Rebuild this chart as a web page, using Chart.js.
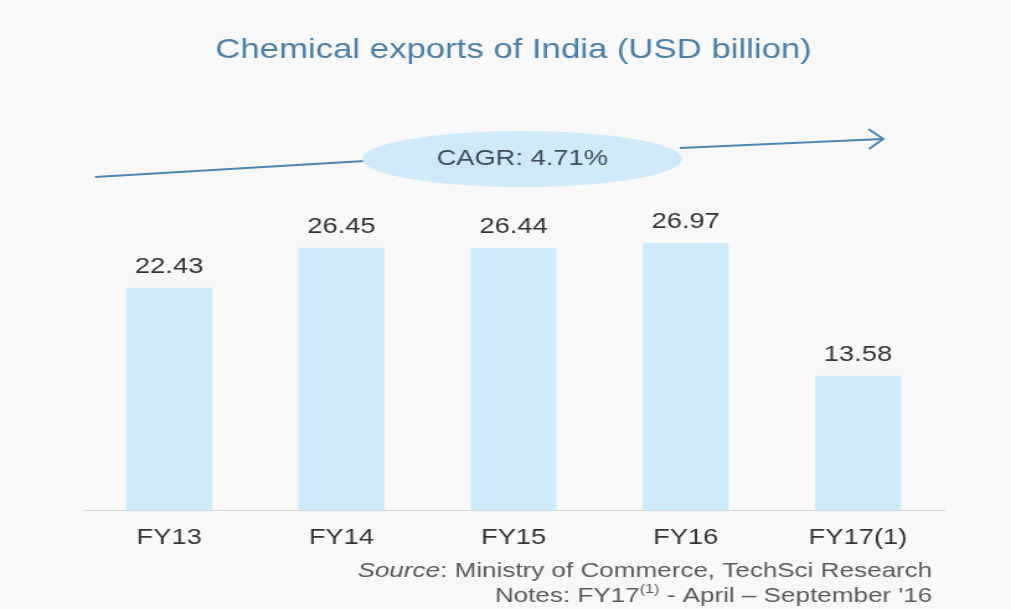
<!DOCTYPE html>
<html>
<head>
<meta charset="utf-8">
<script src="https://cdn.jsdelivr.net/npm/chart.js@4"></script>
<style>
html,body{margin:0;padding:0;background:#f8f8f8;overflow:hidden;}
#wrap{width:815px;height:609px;transform:scaleX(1.2405);transform-origin:0 0;}
</style>
</head>
<body>
<div id="wrap"><canvas id="c" width="815" height="609"></canvas></div>
<script>
const categories = ["FY13", "FY14", "FY15", "FY16", "FY17(1)"];
const exportsUSD = [22.43, 26.45, 26.44, 26.97, 13.58];
const titleText = "Chemical exports of India (USD billion)";
const cagrText = "CAGR: 4.71%";
const sourceRest = ": Ministry of Commerce, TechSci Research";
const notesMain = "Notes: FY17";
const notesSup = "(1)";
const notesTail = " - April \u2013 September '16";

const FONT = "'Liberation Sans', Arial, sans-serif";

const overlay = {
  id: 'overlay',
  afterDatasetsDraw(chart) {
    const ctx = chart.ctx;
    const meta = chart.getDatasetMeta(0);
    ctx.save();
    ctx.font = "22px " + FONT;
    ctx.fillStyle = "#333333";
    ctx.textAlign = "center";
    ctx.textBaseline = "middle";
    meta.data.forEach((bar, i) => {
      ctx.fillText(exportsUSD[i].toFixed(2), bar.x, bar.y - 21);
    });
    ctx.restore();
  },
  afterDraw(chart) {
    const ctx = chart.ctx;
    ctx.save();
    // CAGR arrow
    ctx.strokeStyle = "#4a87b2";
    ctx.lineWidth = 2;
    ctx.beginPath();
    ctx.moveTo(76.5, 177);
    ctx.lineTo(294, 161);
    ctx.stroke();
    ctx.beginPath();
    ctx.moveTo(548, 148);
    ctx.lineTo(711.5, 139);
    ctx.stroke();
    ctx.beginPath();
    ctx.moveTo(700, 129);
    ctx.lineTo(712, 139);
    ctx.lineTo(700.5, 149);
    ctx.stroke();
    // ellipse
    ctx.fillStyle = "#cde9fa";
    ctx.beginPath();
    ctx.ellipse(421, 159, 129, 28, 0, 0, Math.PI * 2);
    ctx.fill();
    ctx.fillStyle = "#3d4b5a";
    ctx.font = "22px " + FONT;
    ctx.textAlign = "center";
    ctx.textBaseline = "middle";
    ctx.fillText(cagrText, 421, 159);
    // source
    ctx.fillStyle = "#5a5a5a";
    ctx.textAlign = "left";
    const right = 751.5;
    ctx.font = "21px " + FONT;
    const wRest = ctx.measureText(sourceRest).width;
    ctx.font = "italic 21px " + FONT;
    const wSrc = ctx.measureText("Source").width;
    let x0 = right - wRest - wSrc;
    ctx.fillText("Source", x0, 571);
    ctx.font = "21px " + FONT;
    ctx.fillText(sourceRest, x0 + wSrc, 571);
    // notes
    const wMain = ctx.measureText(notesMain).width;
    const wTail = ctx.measureText(notesTail).width;
    ctx.font = "13px " + FONT;
    const wSup = ctx.measureText(notesSup).width;
    x0 = right - wMain - wSup - wTail;
    ctx.font = "21px " + FONT;
    ctx.fillText(notesMain, x0, 596);
    ctx.font = "13px " + FONT;
    ctx.fillText(notesSup, x0 + wMain, 589);
    ctx.font = "21px " + FONT;
    ctx.fillText(notesTail, x0 + wMain + wSup, 596);
    ctx.restore();
  }
};

new Chart(document.getElementById('c'), {
  type: 'bar',
  data: {
    labels: categories,
    datasets: [{
      data: exportsUSD,
      backgroundColor: "#cdeafb",
      borderWidth: 0,
      barPercentage: 0.5,
      categoryPercentage: 1.0
    }]
  },
  options: {
    responsive: false,
    animation: false,
    layout: { padding: { left: 67, right: 54, top: 0, bottom: 44 } },
    plugins: {
      legend: { display: false },
      tooltip: { enabled: false },
      title: {
        display: true,
        text: titleText,
        color: "#4a7fa6",
        font: { family: FONT, size: 28, weight: 'normal' },
        padding: { top: 33, bottom: 146 }
      }
    },
    scales: {
      x: {
        grid: { display: false, drawTicks: false },
        border: { display: true, color: "#d6d6d6", width: 1 },
        ticks: { color: "#333333", font: { family: FONT, size: 22 }, padding: 14 }
      },
      y: {
        display: false,
        min: 0,
        max: 30
      }
    }
  },
  plugins: [overlay]
});
</script>
</body>
</html>
